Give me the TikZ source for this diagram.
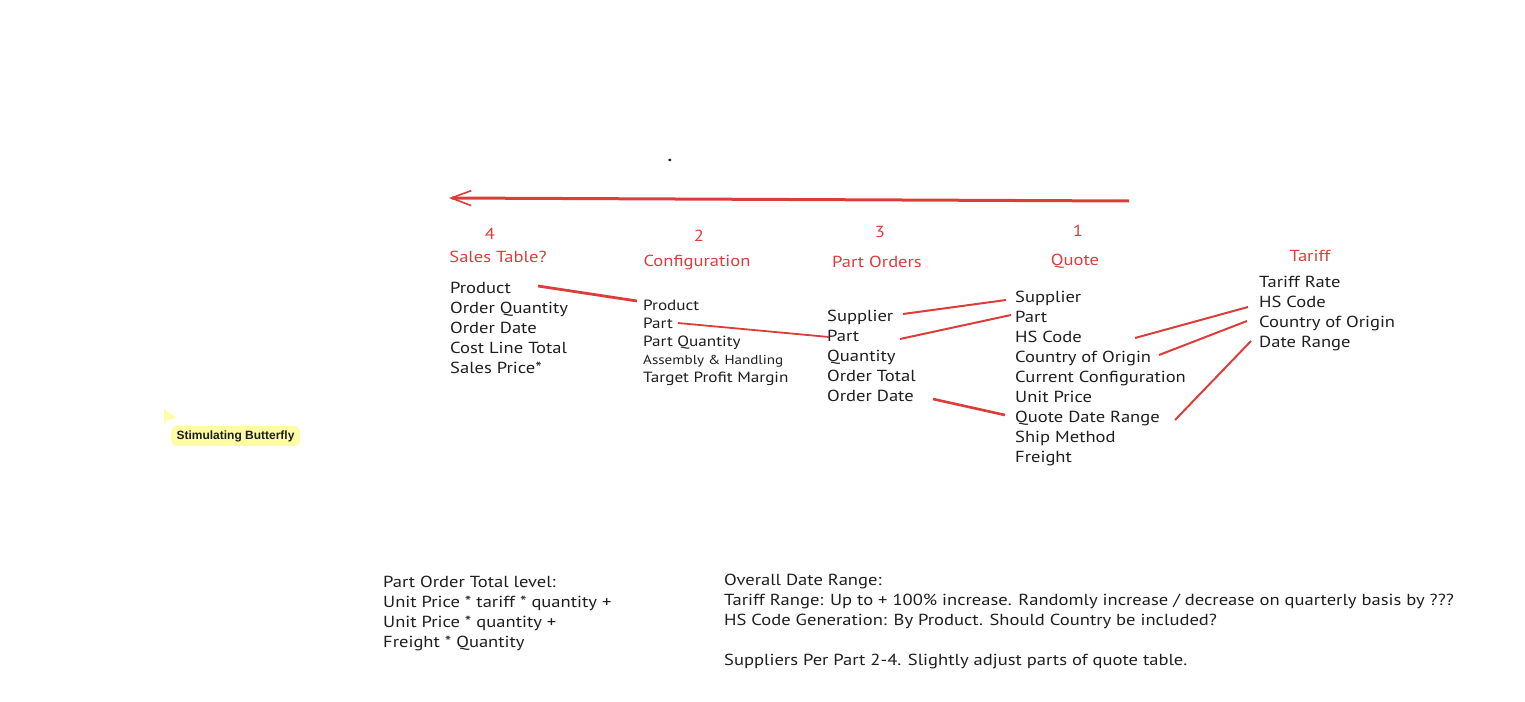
\documentclass[tikz,border=0pt]{standalone}
\usepackage{fontspec}
\setmainfont[FakeStretch=1.16]{PT Sans}
\newfontfamily\tagfont{Liberation Sans}
\usetikzlibrary{calc,arrows.meta}
\definecolor{inkred}{HTML}{DB3E3A}
\definecolor{inkblack}{HTML}{1E1E1E}
\definecolor{tagyellow}{HTML}{FFFCA8}
\tikzset{
  fieldrow/.style={anchor=west, inner sep=0pt, text height=13pt, text depth=2pt, text=inkblack, font=\fontsize{16}{18}\selectfont},
  smallrow/.style={anchor=west, inner sep=0pt, text height=12pt, text depth=2pt, text=inkblack, font=\fontsize{14.8}{16}\selectfont},
  tablehead/.style={anchor=center, inner sep=0pt, text height=13pt, text depth=2pt, text=inkred, font=\fontsize{16}{18}\selectfont},
  link/.style={draw=inkred, line width=2pt},
}

\begin{document}
\begin{tikzpicture}[x=1pt,y=-1pt]
    \useasboundingbox (0,0) rectangle (1525,701);
    \node[inner sep=0pt, font=\bfseries\fontsize{16}{18}\selectfont, text=inkblack] (dot) at (670,160) {.};
    \coordinate (arrowstart) at (1129,201);
    \coordinate (arrowend) at (449,198);
    \draw[draw=inkred, line width=3pt, -{Straight Barb[length=20pt,width=15pt,line width=1.6pt]}] (arrowstart) -- (arrowend);
    % headings
    \node[tablehead] (num4) at (490,234) {4};
    \node[tablehead] (num2) at (699,236) {2};
    \node[tablehead] (num3) at (880,232) {3};
    \node[tablehead] (num1) at (1078,231) {1};
    \node[tablehead] (salestitle) at (498,257) {Sales Table?};
    \node[tablehead] (configtitle) at (697,261) {Configuration};
    \node[tablehead] (orderstitle) at (877,262) {Part Orders};
    \node[tablehead] (quotetitle) at (1075,260) {Quote};
    \node[tablehead] (tarifftitle) at (1310,256) {Tariff};
    % sales table
    \node[fieldrow] (salesproduct) at (450,288) {Product};
    \node[fieldrow] (salesqty) at (450,308) {Order Quantity};
    \node[fieldrow] (salesdate) at (450,328) {Order Date};
    \node[fieldrow] (salescost) at (450,348) {Cost Line Total};
    \node[fieldrow] (salesprice) at (450,368) {Sales Price*};
    % configuration
    \node[smallrow] (cfgproduct) at (643,305) {Product};
    \node[smallrow] (cfgpart) at (643,323) {Part};
    \node[smallrow] (cfgqty) at (643,341) {Part Quantity};
    \node[smallrow, font=\fontsize{13}{16}\selectfont] (cfghandling) at (643,359) {Assembly \& Handling};
    \node[smallrow] (cfgmargin) at (643,377) {Target Profit Margin};
    % part orders
    \node[fieldrow] (ordsupplier) at (827,316) {Supplier};
    \node[fieldrow] (ordpart) at (827,336) {Part};
    \node[fieldrow] (ordqty) at (827,356) {Quantity};
    \node[fieldrow] (ordtotal) at (827,376) {Order Total};
    \node[fieldrow] (orddate) at (827,396) {Order Date};
    % quote
    \node[fieldrow] (qsupplier) at (1015,297) {Supplier};
    \node[fieldrow] (qpart) at (1015,317) {Part};
    \node[fieldrow] (qhs) at (1015,337) {HS Code};
    \node[fieldrow] (qcountry) at (1015,357) {Country of Origin};
    \node[fieldrow] (qconfig) at (1015,377) {Current Configuration};
    \node[fieldrow] (qprice) at (1015,397) {Unit Price};
    \node[fieldrow] (qrange) at (1015,417) {Quote Date Range};
    \node[fieldrow] (qship) at (1015,437) {Ship Method};
    \node[fieldrow] (qfreight) at (1015,457) {Freight};
    % tariff
    \node[fieldrow] (trate) at (1259,282) {Tariff Rate};
    \node[fieldrow] (ths) at (1259,302) {HS Code};
    \node[fieldrow] (tcountry) at (1259,322) {Country of Origin};
    \node[fieldrow] (trange) at (1259,342) {Date Range};
    % links
    \draw[link, line width=2.8pt] ($(salesproduct.west)+(88,-2)$) -- ($(cfgproduct.west)+(-6,-4)$);
    \draw[link, line width=1.8pt] ($(cfgpart.west)+(35,0)$) -- ($(ordpart.west)+(2,1)$);
    \draw[link] ($(ordsupplier.west)+(76,-2)$) -- ($(qsupplier.west)+(-9,3)$);
    \draw[link] ($(ordpart.west)+(73,3)$) -- ($(qpart.west)+(-4,-2)$);
    \draw[link, line width=2.6pt] ($(orddate.west)+(106,3)$) -- ($(qrange.west)+(-10,-2)$);
    \draw[link] ($(qhs.west)+(120,1)$) -- ($(ths.west)+(-11,5)$);
    \draw[link] ($(qcountry.west)+(144,-2)$) -- ($(tcountry.west)+(-12,-1)$);
    \draw[link] ($(qrange.west)+(160,3)$) -- ($(trange.west)+(-8,-1)$);
    % notes
    \node[fieldrow] (lvlhead) at (383,582) {Part Order Total level:};
    \node[fieldrow] (lvlone) at (383,602) {Unit Price * tariff * quantity +};
    \node[fieldrow] (lvltwo) at (383,622) {Unit Price * quantity +};
    \node[fieldrow] (lvlthree) at (383,642) {Freight * Quantity};
    \node[fieldrow] (rangehead) at (724,580) {Overall Date Range:};
    \node[fieldrow] (rangetariff) at (724,600) {Tariff Range: Up to + 100\% increase. Randomly increase / decrease on quarterly basis by ???};
    \node[fieldrow] (rangehs) at (724,620) {HS Code Generation: By Product. Should Country be included?};
    \node[fieldrow] (rangesupp) at (724,660) {Suppliers Per Part 2-4. Slightly adjust parts of quote table.};
    % collaborator tag
    \fill[tagyellow] (164,409) -- (177,418) -- (167,420) -- (164,425) -- cycle;
    \node[fill=tagyellow, rounded corners=6pt, minimum width=129pt, minimum height=20pt, inner sep=0pt, font=\tagfont\bfseries\fontsize{12}{14}\selectfont, text=inkblack] (buttertag) at (235.5,436) {Stimulating Butterfly};
\end{tikzpicture}
\end{document}
